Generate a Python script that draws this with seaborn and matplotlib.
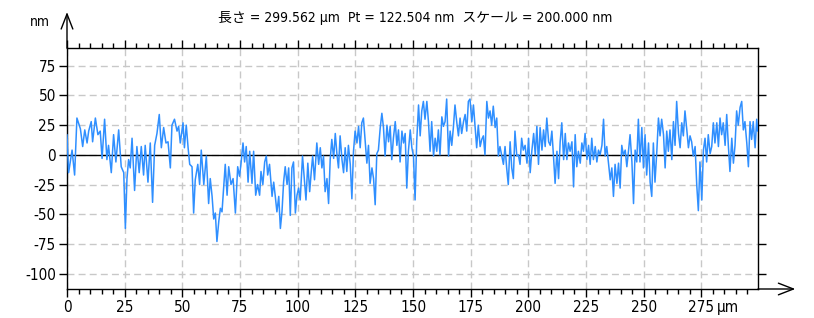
import numpy as np
import pandas as pd
import matplotlib
matplotlib.use("Agg")
import matplotlib.pyplot as plt
import seaborn as sns
from matplotlib.ticker import MultipleLocator

# Surface profile, position in um, height in nm
# 0 - 47 um
x_a = [0, 0.7, 2.2, 3.3, 4.3, 5.8, 6.8, 7.7, 8.7, 9.4,
       10.5, 11.1, 12.3, 13.4, 14.4, 15.2, 16.3, 17.3, 18.0, 19.2,
       20.2, 21.2, 22.4, 23.5, 24.6, 25.3, 26.0, 26.7, 27.4, 28.2,
       29.3, 30.3, 31.3, 32.2, 33.2, 33.9, 35.1, 36.1, 37.1, 38.0,
       39.0, 40.0, 40.9, 41.9, 42.9, 43.8, 44.8, 45.5, 46.6]
z_a = [17, -15, 4, -17, 31, 22, 7, 21, 10, 20,
       28, 11, 31, 17, 20, -3, 30, -4, 8, -15,
       17, -6, 21, -10, -15, -62, -20, -4, -11, 14,
       -30, 7, -15, 7, -17, 8, -23, 10, -40, 8,
       18, 34, 6, 23, 10, 11, -11, 25, 30]

# 47 - 98 um
x_b = [47.7, 48.4, 49.1, 50.3, 50.9, 51.7, 52.5, 53.2, 54.2, 54.9,
       55.6, 56.7, 57.5, 58.2, 59.3, 60.4, 61.4, 62.1, 62.9, 63.6,
       64.3, 65.0, 65.8, 66.5, 67.2, 67.9, 68.6, 69.4, 70.1, 71.1,
       72.0, 73.0, 74.0, 74.8, 75.4, 76.3, 77.0, 77.7, 78.5, 79.2,
       80.2, 80.9, 81.8, 82.6, 83.5, 84.1, 84.9, 85.7, 86.4, 87.0,
       87.8, 88.9, 89.6, 90.3, 91.0, 91.8, 92.5, 93.2, 93.9, 94.6,
       95.4, 96.1, 96.8, 97.5, 98.2]
z_b = [20, 24, 10, 27, 6, 25, 6, -8, -10, -49,
       -21, -8, -25, 4, -25, -1, -41, -20, -35, -54,
       -49, -73, -56, -45, -48, -28, -8, -34, -10, -25,
       -20, -49, -10, -18, -8, 10, -6, 7, -23, 3,
       -24, 3, -34, -25, -34, -14, -25, -6, -1, -17,
       -8, -35, -23, -35, -48, -35, -62, -48, -23, -10,
       -25, -11, -51, -11, -6]

# 99 - 150 um
x_c = [99.0, 99.7, 100.4, 101.1, 102.1, 103.0, 103.6, 104.4, 105.2, 105.9,
       106.5, 107.3, 108.3, 109.1, 109.8, 110.5, 111.2, 111.9, 112.7, 113.4,
       114.1, 114.8, 115.6, 116.3, 117.0, 117.7, 118.4, 119.2, 119.9, 120.6,
       121.3, 122.0, 122.8, 123.5, 124.2, 124.9, 125.7, 126.4, 127.1, 127.8,
       128.5, 129.3, 130.0, 130.7, 131.4, 132.2, 132.9, 133.6, 134.3, 135.0,
       135.8, 136.5, 137.2, 137.9, 138.7, 139.4, 140.1, 140.8, 141.5, 142.3,
       143.0, 143.7, 144.4, 145.2, 145.9, 146.6, 147.3, 148.0, 148.8, 149.5]
z_c = [-49, -34, -28, -38, -1, -23, -38, -7, -31, -14,
       -1, -21, 10, -8, 6, -11, -1, -31, -20, -41,
       -4, 13, -3, 18, 1, -11, 16, -4, -15, 6,
       -14, 8, -8, -37, 3, 20, 10, 24, 6, 27,
       31, 11, -7, 8, -24, -11, -20, -42, 1, 4,
       23, 35, 23, -1, 25, 11, 24, -4, 14, 28,
       8, 21, -6, 20, 10, 18, -28, 3, 21, 6]

# 150 - 199 um
x_d = [150.2, 150.9, 151.6, 152.4, 153.1, 153.8, 154.5, 155.2, 156.0, 156.7,
       157.4, 158.1, 158.9, 159.6, 160.3, 161.0, 161.7, 162.5, 163.2, 163.9,
       164.6, 165.4, 166.1, 166.8, 167.5, 168.2, 169.0, 169.7, 170.4, 171.1,
       171.9, 172.6, 173.3, 174.0, 174.7, 175.5, 176.2, 176.9, 177.6, 178.3,
       179.1, 179.8, 180.5, 181.2, 182.0, 182.7, 183.4, 184.1, 184.8, 185.6,
       186.3, 187.0, 187.7, 188.5, 189.2, 189.9, 190.6, 191.3, 192.1, 192.8,
       193.5, 194.2, 195.0, 195.7, 196.4, 197.1, 197.8, 198.6]
z_d = [-1, -38, 11, 42, 16, 37, 45, 30, 45, 28,
       3, 28, -1, 14, 3, 21, 0, 32, 24, 28,
       47, -1, 20, 8, 23, 42, 27, 16, 31, 18,
       28, 34, 20, 45, 47, 28, 42, 24, 6, 25,
       7, 13, 16, 0, 45, 31, 37, 25, 41, 23,
       31, -1, 7, -1, -8, 7, -11, -25, 11, -11,
       -20, 20, -1, 0, -8, 14, 4, 8]

# 199 - 247 um
x_e = [199.4, 200.1, 200.8, 201.5, 202.3, 203.0, 203.7, 204.4, 205.1, 205.9,
       206.6, 207.3, 208.0, 208.8, 209.5, 210.2, 210.9, 211.6, 212.4, 213.1,
       213.8, 214.5, 215.3, 216.0, 216.7, 217.4, 218.1, 218.9, 219.6, 220.3,
       221.0, 221.7, 222.5, 223.2, 223.9, 224.6, 225.4, 226.1, 226.8, 227.5,
       228.2, 229.0, 229.7, 230.4, 231.1, 231.9, 232.6, 233.3, 234.0, 234.7,
       235.5, 236.2, 236.9, 237.6, 238.4, 239.1, 239.8, 240.5, 241.2, 242.0,
       242.7, 243.4, 244.1, 244.9, 245.6, 246.3, 247.0]
z_e = [-7, 14, -15, 3, 18, 0, 24, -8, 23, 4,
       21, 7, 31, 11, 8, 20, -1, -24, 3, -20,
       11, 27, -4, 18, -4, 10, 3, 11, -27, 17,
       -10, 3, -7, 10, 3, 18, -4, 8, -8, 14,
       -4, 7, -6, 4, 0, 8, 30, -1, 7, -6,
       -21, -11, -35, -8, -24, -7, -28, 8, 0, 4,
       -10, 3, 17, -6, -41, 4, -6]

# 247 - 299.6 um
x_f = [247.7, 248.4, 249.2, 249.9, 250.6, 251.3, 252.1, 252.8, 253.5, 254.2,
       254.9, 255.7, 256.4, 257.1, 257.8, 258.6, 259.3, 260.0, 260.7, 261.4,
       262.2, 262.9, 263.6, 264.3, 265.1, 265.8, 266.5, 267.2, 267.9, 268.7,
       269.4, 270.1, 270.8, 271.5, 272.3, 273.0, 273.7, 274.4, 275.2, 275.9,
       276.6, 277.3, 278.0, 278.8, 279.5, 280.2, 280.9, 281.7, 282.4, 283.1,
       283.8, 284.5, 285.3, 286.0, 286.7, 287.4, 288.2, 288.9, 289.6, 290.3,
       291.0, 291.8, 292.5, 293.2, 293.9, 294.7, 295.4, 296.1, 296.8, 297.5,
       298.3, 299.0, 299.4]
z_f = [30, -6, 23, -11, 17, -17, 10, -23, -35, 10,
       -23, 3, 31, 16, 30, 17, -11, 20, 3, 21,
       -4, 28, 8, 45, 18, 6, 27, 16, 37, 21,
       6, 16, 11, -1, 7, -25, -47, -6, -38, 4,
       14, -6, 17, 1, 7, 27, 10, 27, 7, 31,
       17, 27, 8, 34, 8, -14, 14, -7, 8, 37,
       25, 40, 45, 21, 28, 10, -10, 28, 13, 28,
       6, 30, 20]

x_ticks = [0, 25, 50, 75, 100, 125, 150, 175, 200, 225, 250, 275]
y_ticks = [-100, -75, -50, -25, 0, 25, 50, 75]
title = "長さ = 299.562 µm  Pt = 122.504 nm  スケール = 200.000 nm"
x_length = 299.562

sns.set_theme(style="white")
plt.rcParams['font.family'] = ['DejaVu Sans', 'Noto Sans CJK JP']
plt.rcParams['font.stretch'] = 'condensed'
plt.rcParams['axes.unicode_minus'] = False
plt.rcParams['text.color'] = 'black'

df = pd.DataFrame({'x': x_a + x_b + x_c + x_d + x_e + x_f,
                   'z': z_a + z_b + z_c + z_d + z_e + z_f})

fig = plt.figure(figsize=(8.14, 3.18), dpi=100)
ax = fig.add_axes([67 / 814, 1 - 289 / 318, 691 / 814, 241 / 318])

ax.grid(True, which='major', color='#c8c8c8', linestyle=(0, (5, 3)), linewidth=1)
ax.set_axisbelow(True)
ax.axhline(0, color='black', linewidth=1, zorder=2)
sns.lineplot(data=df, x='x', y='z', color='#2f8fff', linewidth=1.1,
             estimator=None, ax=ax, zorder=3)

ax.set_xlim(0, x_length)
ax.set_ylim(-113, 90)
ax.set_xticks(x_ticks)
ax.set_xticklabels([str(t) for t in x_ticks])
ax.xaxis.set_minor_locator(MultipleLocator(5))
ax.set_yticks(y_ticks)
ax.set_yticklabels([str(t) for t in y_ticks])
ax.set_xlabel('')
ax.set_ylabel('')

ax.tick_params(which='both', direction='out', bottom=True, top=True, left=True, right=True,
               labeltop=False, labelright=False, colors='black', labelsize=11, width=1)
ax.tick_params(which='major', length=6, pad=2)
ax.tick_params(which='minor', length=3.5)

for s in ax.spines.values():
    s.set_color('black')
    s.set_linewidth(1)

# unit after the last x label
ax.annotate('µm', xy=(275, 0), xycoords=('data', 'axes fraction'), xytext=(11, -8),
            textcoords='offset points', ha='left', va='top', fontsize=11)

# axis arrows
arrow = dict(arrowstyle='->,head_length=0.9,head_width=0.35', lw=1, color='black',
             shrinkA=0, shrinkB=0)
ax.annotate('', xy=(0, 1.149), xytext=(0, 1), xycoords='axes fraction',
            arrowprops=arrow, annotation_clip=False)
ax.annotate('', xy=(1.054, 0), xytext=(1, 0), xycoords='axes fraction',
            arrowprops=arrow, annotation_clip=False)

fig.text(40 / 814, 1 - 22 / 318, 'nm', ha='center', va='center', fontsize=10)
fig.text(415 / 814, 1 - 18 / 318, title, ha='center', va='center', fontsize=10)

fig.savefig('out.png', dpi=100)
